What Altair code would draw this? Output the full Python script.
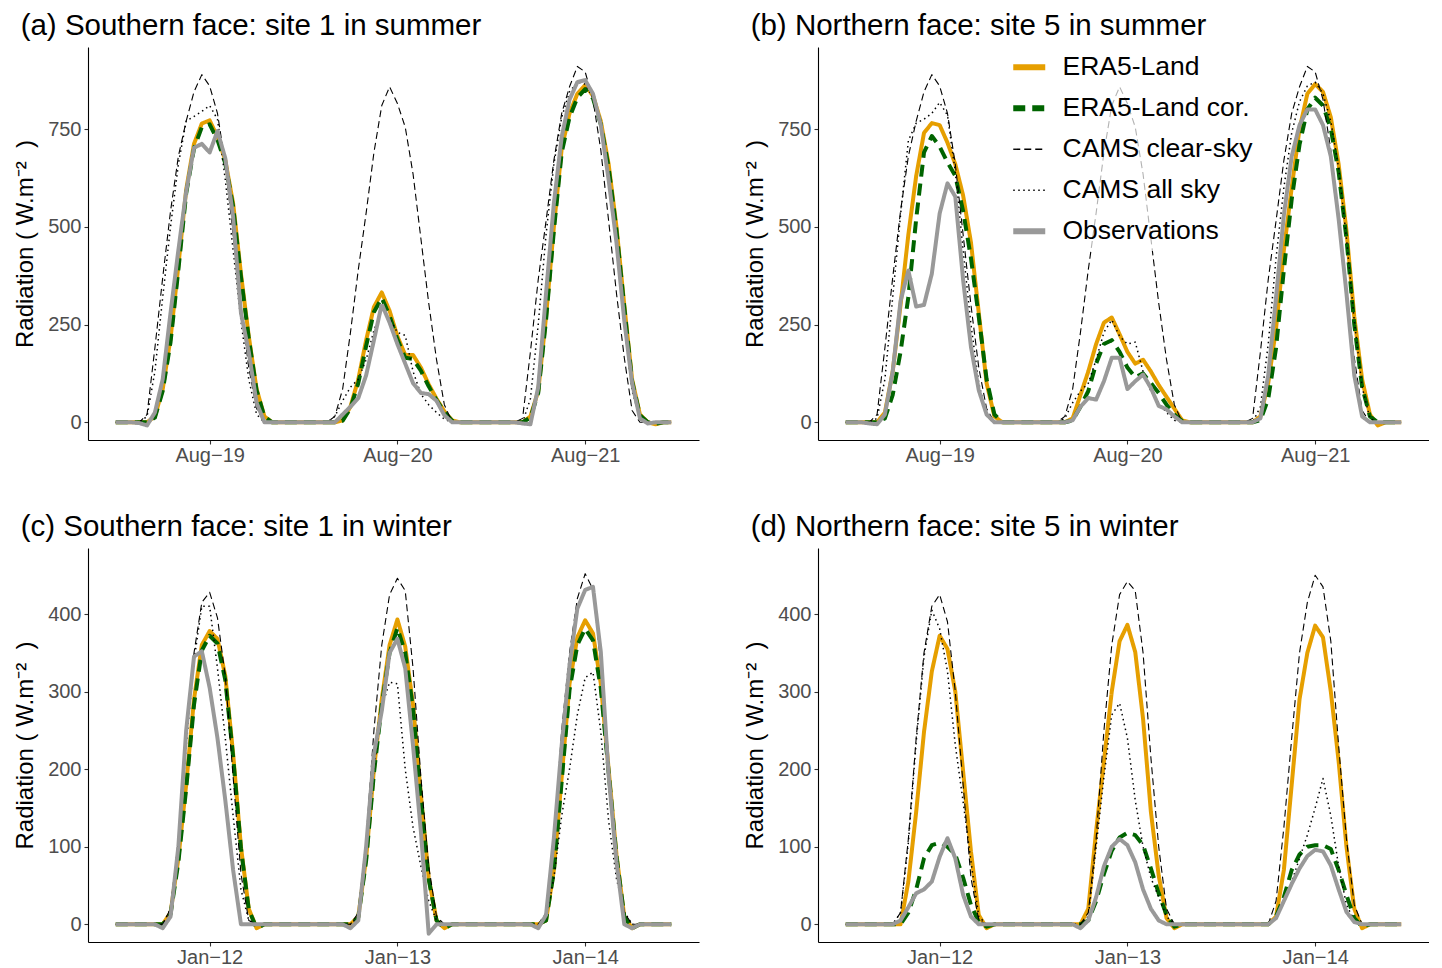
import altair as alt
import pandas as pd

HOURS = list(range(72))
SERIES = ["ERA5-Land", "ERA5-Land cor.", "CAMS clear-sky", "CAMS all sky", "Observations"]
COLORS = ["#E69F00", "#006400", "#000000", "#000000", "#999999"]
DASHES = [[1, 0], [12, 7], [7, 4], [1.5, 3.5], [1, 0]]
WIDTHS = [4, 4, 1.1, 1.5, 4]

SUMMER_TICKS = ["Aug\u221219", "Aug\u221220", "Aug\u221221"]
WINTER_TICKS = ["Jan\u221212", "Jan\u221213", "Jan\u221214"]
TITLES = ["(a) Southern face: site 1 in summer", "(b) Northern face: site 5 in summer",
          "(c) Southern face: site 1 in winter", "(d) Northern face: site 5 in winter"]
Y_TITLE = "Radiation\u00a0(\u00a0W.m\u207b\u00b2\u00a0\u00a0)"

# ---- panel (a) ----
A_ERA = [0,0,0,0,0,15,85,215,400,595,712,764,
         772,730,670,560,380,220,85,15,0,0,0,0,
         0,0,0,0,0,5,40,110,210,295,332,285,
         220,172,172,140,97,60,28,5,0,0,0,0,
         0,0,0,0,0,15,80,270,500,700,790,840,
         862,835,770,660,500,300,110,20,0,-5,0,0]
A_COR = [0,0,0,0,0,12,80,205,390,585,700,755,
         762,722,662,552,372,215,82,14,0,0,0,0,
         0,0,0,0,0,4,36,100,195,282,318,272,
         212,165,162,132,92,57,26,4,0,0,0,0,
         0,0,0,0,0,12,75,262,490,690,780,830,
         852,828,762,652,492,295,105,18,0,-4,0,0]
A_CLEAR = [0,0,0,0,20,190,370,540,680,770,845,889,
           860,790,660,480,300,140,35,0,0,0,0,0,
           0,0,0,0,15,85,230,390,535,690,810,858,
           815,755,635,470,305,160,45,0,0,0,0,0,
           0,0,0,0,10,180,365,515,670,790,858,910,
           896,825,696,515,330,165,30,0,0,0,0,0]
A_ALL = [0,0,0,0,15,130,320,500,660,770,782,795,
         810,775,620,440,260,110,20,0,0,0,0,0,
         0,0,0,0,15,55,90,110,160,235,290,265,
         230,222,130,72,45,25,8,0,0,0,0,0,
         0,0,0,0,0,60,250,480,660,780,845,870,
         865,830,760,630,450,250,80,10,0,0,0,0]
A_OBS = [0,0,0,-2,-8,25,110,280,440,590,702,712,
         690,745,675,525,280,180,50,0,0,0,0,0,
         0,0,0,0,0,20,40,62,120,210,302,255,
         200,150,100,75,72,55,18,0,0,0,0,0,
         0,0,0,0,-3,-5,90,330,560,730,825,870,
         875,840,760,620,460,260,100,10,-3,0,0,0]

# ---- panel (b) ----
B_ERA = [0,0,0,0,0,25,130,300,480,630,740,765,
         760,715,660,580,460,280,100,15,0,0,0,0,
         0,0,0,0,0,10,70,130,200,255,268,225,
         180,150,160,130,95,65,35,5,0,0,0,0,
         0,0,0,0,0,15,100,240,440,600,750,840,
         865,845,780,660,490,270,110,20,-8,0,0,0]
B_COR = [0,0,0,0,0,10,70,180,320,520,690,732,
         705,665,630,540,420,270,110,20,0,0,0,0,
         0,0,0,0,0,5,40,80,150,200,210,180,
         140,115,125,100,75,45,20,3,0,0,0,0,
         0,0,0,0,0,5,60,190,390,570,710,800,
         830,810,750,640,470,250,90,15,0,0,0,0]
B_CLEAR = [0,0,0,0,20,190,370,540,680,770,845,889,
           860,790,660,480,300,140,35,0,0,0,0,0,
           0,0,0,0,15,85,230,390,535,690,810,858,
           815,755,635,470,305,160,45,0,0,0,0,0,
           0,0,0,0,10,180,365,515,670,790,858,910,
           896,825,696,515,330,165,30,0,0,0,0,0]
B_ALL = [0,0,0,0,10,110,320,530,720,765,775,790,
         818,785,640,440,250,100,15,0,0,0,0,0,
         0,0,0,0,10,50,80,100,160,230,262,220,
         200,205,130,80,50,25,5,0,0,0,0,0,
         0,0,0,0,0,40,200,420,600,740,820,860,
         870,840,770,650,470,260,90,10,0,0,0,0]
B_OBS = [0,0,0,-3,-5,20,130,310,388,296,300,380,
         534,611,577,364,193,82,20,0,0,0,0,0,
         0,0,0,0,0,5,40,62,58,105,165,165,
         85,105,122,88,42,33,15,0,0,0,0,0,
         0,0,0,0,0,10,120,320,530,680,760,800,
         800,760,680,520,330,120,15,0,0,0,0,0]

# ---- panel (c) ----
C_ERA = [0,0,0,0,0,0,0,15,85,180,290,360,
         378,368,320,220,100,20,-5,0,0,0,0,0,
         0,0,0,0,0,0,0,10,85,200,290,360,
         393,358,283,167,60,5,-5,0,0,0,0,0,
         0,0,0,0,0,0,0,5,70,190,310,370,
         392,375,310,200,90,10,-5,0,0,0,0,0]
C_COR = [0,0,0,0,0,0,0,13,80,175,283,353,
         372,362,315,216,98,19,-5,0,0,0,0,0,
         0,0,0,0,0,0,0,9,82,195,283,350,
         382,350,278,164,58,5,-5,0,0,0,0,0,
         0,0,0,0,0,0,0,5,68,185,302,360,
         381,366,304,196,88,10,-5,0,0,0,0,0]
C_CLEAR = [0,0,0,0,0,0,0,20,110,240,350,415,
           428,395,320,190,65,5,0,0,0,0,0,0,
           0,0,0,0,0,0,0,15,110,250,360,425,
           446,430,330,190,75,10,0,0,0,0,0,0,
           0,0,0,0,0,0,0,15,110,250,350,420,
           452,432,335,200,90,15,0,0,0,0,0,0]
C_ALL = [0,0,0,0,0,0,0,20,105,230,340,410,
         410,330,240,140,45,5,0,0,0,0,0,0,
         0,0,0,0,0,0,0,10,90,200,280,312,
         310,200,125,75,30,5,0,0,0,0,0,0,
         0,0,0,0,0,0,0,8,60,140,200,270,
         318,325,248,133,59,16,0,0,0,0,0,0]
C_OBS = [0,0,0,0,0,0,-5,10,100,250,345,352,
         305,240,160,70,0,0,0,0,0,0,0,0,
         0,0,0,0,0,0,-5,5,100,220,275,350,
         368,330,230,120,-12,0,0,0,0,0,0,0,
         0,0,0,0,0,0,-5,12,111,231,334,407,
         431,435,351,192,81,0,-5,0,0,0,0,0]

# ---- panel (d) ----
D_ERA = [0,0,0,0,0,0,0,0,55,145,248,326,
         372,355,300,197,94,12,-5,0,0,0,0,0,
         0,0,0,0,0,0,0,20,120,210,300,365,
         386,351,265,145,63,8,-5,0,0,0,0,0,
         0,0,0,0,0,0,0,10,70,180,290,350,
         385,370,300,210,100,20,-5,0,0,0,0,0]
D_COR = [0,0,0,0,0,0,0,0,15,45,85,102,
         105,100,90,60,25,3,-3,0,0,0,0,0,
         0,0,0,0,0,0,0,5,30,65,95,112,
         118,115,102,72,40,12,-3,0,0,0,0,0,
         0,0,0,0,0,0,0,10,35,70,90,100,
         102,102,97,70,38,8,-3,0,0,0,0,0]
D_CLEAR = [0,0,0,0,0,0,0,15,110,240,350,410,
           425,390,300,180,60,5,0,0,0,0,0,0,
           0,0,0,0,0,0,0,15,110,250,360,425,
           442,430,350,215,100,20,0,0,0,0,0,0,
           0,0,0,0,0,0,0,30,125,240,350,415,
           450,435,365,230,110,25,0,0,0,0,0,0]
D_ALL = [0,0,0,0,0,0,0,15,105,235,345,405,
         381,326,231,158,81,10,0,0,0,0,0,0,
         0,0,0,0,0,0,0,10,100,190,270,285,
         240,160,100,60,35,10,0,0,0,0,0,0,
         0,0,0,0,0,0,0,10,30,55,85,115,
         150,188,140,75,25,5,0,0,0,0,0,0]
D_OBS = [0,0,0,0,0,0,0,5,22,40,45,55,
         87,111,85,38,10,0,0,0,0,0,0,0,
         0,0,0,0,0,0,-5,5,35,75,100,110,
         102,80,45,20,5,0,0,0,0,0,0,0,
         0,0,0,0,0,0,0,8,30,52,72,88,
         96,94,76,45,16,3,0,0,0,0,0,0]

FONT = "Liberation Sans"
SUMMER_DOMAIN = [-45.3, 959.7]
WINTER_DOMAIN = [-22.8, 485.1]
SUMMER_YTICKS = [0, 250, 500, 750]
WINTER_YTICKS = [0, 100, 200, 300, 400]
LEGEND_WIDTH_EXPR = "(datum.value == 'CAMS clear-sky' || datum.value == 'CAMS all sky') ? 1.4 : 6"


def panel(title, lists, ticks, ydom, yticks, show_legend, height):
    rows = []
    for s, vals in zip(SERIES, lists):
        assert len(vals) == len(HOURS)
        for h, v in zip(HOURS, vals):
            rows.append({"hour": h, "value": v, "series": s})
    df = pd.DataFrame(rows)
    label_expr = ("datum.value == 12 ? '%s' : datum.value == 36 ? '%s' : '%s'"
                  % (ticks[0], ticks[1], ticks[2]))
    x = alt.X("hour:Q",
              scale=alt.Scale(domain=[-3.55, 74.55], nice=False, zero=False),
              axis=alt.Axis(values=[12, 36, 60], labelExpr=label_expr, title=None,
                            labelPadding=1))
    y = alt.Y("value:Q",
              scale=alt.Scale(domain=ydom, nice=False, zero=False),
              axis=alt.Axis(values=yticks, title=Y_TITLE, labelPadding=3))
    if show_legend:
        leg = alt.Legend(
            title=None, orient="none", legendX=192, legendY=1,
            symbolType="stroke", symbolSize=1024,
            symbolStrokeWidth={"expr": LEGEND_WIDTH_EXPR},
            labelFontSize=26.5, labelFont=FONT, labelColor="black", labelLimit=500,
            labelOffset=20, rowPadding=14, padding=6,
            fillColor="rgba(255,255,255,0.7)",
        )
    else:
        leg = None
    color = alt.Color("series:N", scale=alt.Scale(domain=SERIES, range=COLORS), legend=leg)
    dash = alt.StrokeDash("series:N", scale=alt.Scale(domain=SERIES, range=DASHES), legend=leg)
    layers = []
    for s, w in zip(SERIES, WIDTHS):
        layers.append(
            alt.Chart(df)
            .transform_filter(alt.datum.series == s)
            .mark_line(strokeWidth=w, strokeCap="butt", strokeJoin="round", clip=True)
            .encode(x=x, y=y, color=color, strokeDash=dash)
        )
    return alt.layer(*layers).properties(
        width=611, height=height,
        title=alt.TitleParams(text=title, anchor="start", frame="bounds", fontSize=29.5,
                              font=FONT, fontWeight="normal", color="black",
                              offset=6, dx=7),
    )


pa = panel(TITLES[0], [A_ERA, A_COR, A_CLEAR, A_ALL, A_OBS], SUMMER_TICKS,
           SUMMER_DOMAIN, SUMMER_YTICKS, False, 393)
pb = panel(TITLES[1], [B_ERA, B_COR, B_CLEAR, B_ALL, B_OBS], SUMMER_TICKS,
           SUMMER_DOMAIN, SUMMER_YTICKS, True, 393)
pc = panel(TITLES[2], [C_ERA, C_COR, C_CLEAR, C_ALL, C_OBS], WINTER_TICKS,
           WINTER_DOMAIN, WINTER_YTICKS, False, 394)
pd_ = panel(TITLES[3], [D_ERA, D_COR, D_CLEAR, D_ALL, D_OBS], WINTER_TICKS,
            WINTER_DOMAIN, WINTER_YTICKS, False, 394)

top = alt.hconcat(pa, pb, spacing=44).resolve_scale(color="independent", strokeDash="independent")
bottom = alt.hconcat(pc, pd_, spacing=44).resolve_scale(color="independent", strokeDash="independent")

chart = (
    alt.vconcat(top, bottom, spacing=46)
    .resolve_scale(color="independent", strokeDash="independent")
    .properties(padding={"left": 5, "top": 2, "right": 0, "bottom": 0})
    .configure(font=FONT)
    .configure_view(stroke=None)
    .configure_axis(domainColor="black", domainWidth=1.1, tickColor="#333333", tickSize=4,
                    tickWidth=1.1, labelFontSize=20, labelColor="#4D4D4D", labelFont=FONT,
                    titleFontSize=24, titleFont=FONT, titleFontWeight="normal",
                    titleColor="black", titlePadding=10, grid=False)
)

chart.save("out.html", embed_options={"renderer": "svg", "actions": False})
